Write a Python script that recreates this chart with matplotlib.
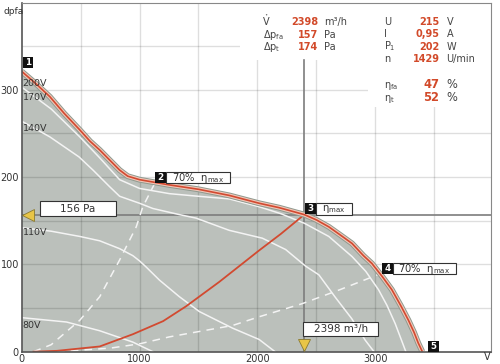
import matplotlib
matplotlib.use("Agg")
import matplotlib.pyplot as plt
from matplotlib.patches import Rectangle, Circle

# ---------------- data ----------------
q_200 = [0, 120, 239, 360, 493, 580, 662, 750, 831, 900, 1000, 1254, 1500, 1761, 2015, 2183, 2398,
         2500, 2606, 2700, 2803, 2900, 2972, 3060, 3141, 3220, 3282, 3330, 3365, 3400]
v_200 = [321, 307, 292, 273, 254, 241, 231, 219, 208, 201, 197, 191, 186, 179, 170, 165, 157,
         151, 143, 134, 124, 110, 101, 86, 71, 52, 36, 22, 10, 0]

q_170 = [0, 250, 493, 662, 831, 1000, 1254, 1500, 1761, 2015, 2200, 2400, 2606, 2803, 2920, 3028, 3100, 3170, 3260]
v_170 = [303, 278, 246, 222, 197, 187, 181, 178, 175, 166, 158, 147, 132, 109, 92, 71, 53, 32, 0]

q_140 = [0, 239, 487, 605, 746, 831, 1000, 1113, 1338, 1479, 1761, 2042, 2240, 2409, 2522, 2663, 2800, 2916, 2990]
v_140 = [264, 246, 223, 208, 189, 178, 170, 164, 157, 153, 139, 130, 117, 98, 88, 62, 38, 13, 0]

q_110 = [0, 250, 493, 662, 831, 943, 1000, 1056, 1169, 1338, 1507, 1789, 2015, 2150]
v_110 = [142, 138, 132, 127, 118, 110, 104, 97, 82, 63, 46, 27, 14, 0]

q_80 = [0, 380, 493, 662, 943, 1113]
v_80 = [39, 34, 30, 24, 11, 0]

# system curve through operating point
q_sys = [100, 300, 662, 943, 1200, 1395, 1677, 2015, 2200, 2398]
v_sys = [0, 1, 6, 20, 35, 52, 80, 116, 135, 157]

# 70 % eta_max lines (dashed)
q_eta1 = [100, 250, 493, 662, 831, 972, 1028, 1130]
v_eta1 = [0, 8, 36, 63, 105, 143, 166, 193]
q_eta2 = [300, 747, 1000, 1254, 1500, 1789, 2015, 2380, 2700, 2944, 3020]
v_eta2 = [0, 4, 9, 17, 23, 30, 40, 55, 71, 84, 88]

volt_labels = ["200V", "170V", "140V", "110V", "80V"]
op_flow = 2398
op_press = 156.6

info_left = [("V", "2398", "m³/h"),
             (r"$\mathregular{\Delta p_{fa}}$", "157", "Pa"),
             (r"$\mathregular{\Delta p_{t}}$", "174", "Pa")]
info_right = [("U", "215", "V"), ("I", "0,95", "A"),
              (r"$\mathregular{P_1}$", "202", "W"), ("n", "1429", "U/min"),
              (r"$\mathregular{\eta_{fa}}$", "47", "%"), (r"$\mathregular{\eta_{t}}$", "52", "%")]

xticks = [0, 1000, 2000, 3000]
yticks = [0, 100, 200, 300]

# ---------------- figure ----------------
W, H = 500, 364
fig = plt.figure(figsize=(W / 100, H / 100), dpi=100)
ax = fig.add_axes([21.7 / W, 1 - 351.7 / H, 469 / W, 348.4 / H])
ax.set_xlim(0, 3980)
ax.set_ylim(0, 399)

def fp(x, y):
    return (x / W, 1 - y / H)

FILL = "#bbc0bb"
RED = "#d24a30"
ax.fill_between(q_200, v_200, 0, color=FILL, lw=0, zorder=1)

# grid
for gx in range(500, 4000, 500):
    ax.axvline(gx, color="black", alpha=0.13, lw=1, zorder=2)
for gy in range(50, 400, 50):
    ax.axhline(gy, color="black", alpha=0.13, lw=1, zorder=2)

# white info panels hiding grid
ax.add_patch(Rectangle((1853, 334), 1090, 70, facecolor="white", edgecolor="none", zorder=3))
ax.add_patch(Rectangle((2940, 280), 1045, 125, facecolor="white", edgecolor="none", zorder=3))

# operating lines
ax.axhline(op_press, color="#7d7d7d", lw=1.2, zorder=4)
ax.plot([op_flow, op_flow], [0, 334], color="#7d7d7d", lw=1.2, zorder=4)

# voltage curves
wc = dict(color="#f4f4f4", lw=1.1, zorder=5)
ax.plot(q_170, v_170, **wc)
ax.plot(q_140, v_140, **wc)
ax.plot(q_110, v_110, **wc)
ax.plot(q_80, v_80, **wc)

ax.plot(q_eta1, v_eta1, color="#f4f4f4", lw=1.1, dashes=(5, 4), zorder=5)
ax.plot(q_eta2, v_eta2, color="#f4f4f4", lw=1.1, dashes=(5, 4), zorder=5)

ax.plot(q_sys, v_sys, color=RED, lw=1.3, zorder=6)

ax.plot(q_200, v_200, color="#8e998e", lw=4.2, zorder=6, solid_capstyle="butt")
ax.plot(q_200, v_200, color="#f2c6b8", lw=2.8, zorder=7, solid_capstyle="butt")
ax.plot(q_200, v_200, color=RED, lw=1.2, zorder=8, solid_capstyle="butt")

# axes styling
ax.set_xticks(xticks)
ax.set_yticks(yticks)
ax.set_xticklabels([str(t) for t in xticks], fontsize=7, color="#333333")
ax.set_yticklabels([str(t) for t in yticks], fontsize=7, color="#333333")
ax.tick_params(length=0, pad=2)
for s in ["top", "right"]:
    ax.spines[s].set_color("#888888")
    ax.spines[s].set_linewidth(0.8)
for s in ["left", "bottom"]:
    ax.spines[s].set_color("#555555")
    ax.spines[s].set_linewidth(1.2)
for s in ax.spines.values():
    s.set_zorder(20)

fig.text(*fp(3, 12), "dpfa", fontsize=6.5, color="#333333", va="center", ha="left")
fig.text(*fp(484, 357), "V", fontsize=7, color="#333333", va="center", ha="left")

# voltage labels
for lab, yy in zip(volt_labels, [83, 97, 128, 233, 325]):
    fig.text(*fp(22.5, yy), lab, fontsize=6.8, color="#333333", va="center", ha="left", zorder=30)

# numbered boxes
def numbox(x0, y0, n):
    fig.patches.append(Rectangle(fp(x0, y0 + 11), 10.5 / W, 11 / H, transform=fig.transFigure,
                                 facecolor="#111111", edgecolor="none", zorder=30))
    fig.text(*fp(x0 + 5.2, y0 + 5.7), str(n), fontsize=6.3, color="white", weight="bold",
             ha="center", va="center", zorder=31)

def labbox(x0, x1, y0, y1, txt, fs=6.8):
    fig.patches.append(Rectangle(fp(x0, y1), (x1 - x0) / W, (y1 - y0) / H, transform=fig.transFigure,
                                 facecolor="white", edgecolor="#333333", lw=0.8, zorder=30))
    fig.text(*fp((x0 + x1) / 2, (y0 + y1) / 2 + 0.5), txt, fontsize=fs, color="#333333",
             ha="center", va="center", zorder=31)

numbox(22.7, 56.5, 1)
numbox(155, 171.5, 2)
labbox(165.5, 230, 171.5, 183, r"70%  $\mathregular{\eta_{max}}$", fs=7.2)
numbox(305, 203, 3)
labbox(315.5, 352, 203, 214.5, r"$\mathregular{\eta_{max}}$", fs=7.2)
numbox(382, 262.5, 4)
labbox(392.5, 456, 262.5, 274, r"70%  $\mathregular{\eta_{max}}$", fs=7.2)
numbox(428, 340.5, 5)

labbox(40, 115.7, 200.7, 215.7, "156 Pa", fs=7.5)
labbox(303.3, 378.3, 321.7, 336, "2398 m³/h", fs=7.5)

# yellow markers
ax.plot([55], [op_press], marker="<", ms=8.5, mfc="#e8c547", mec="#8a7a30", mew=0.6,
        zorder=25, clip_on=False)
ax.plot([op_flow], [7.5], marker="v", ms=8.5, mfc="#e8c547", mec="#8a7a30", mew=0.6,
        zorder=25, clip_on=False)

# info panel
VAL = "#d24a2a"
LAB = "#444444"
FS = 7.0
for i, (lab, val, unit) in enumerate(info_left):
    y = 22.0 + i * 12.5
    fig.text(*fp(263, y + 3), lab, fontsize=FS, color=LAB, ha="left", va="baseline")
    fig.text(*fp(318.5, y), val, fontsize=FS, color=VAL, weight="bold", ha="right", va="center")
    fig.text(*fp(324, y), unit, fontsize=FS, color=LAB, ha="left", va="center")
# dot over V (volume flow symbol)
fig.patches.append(Circle(fp(266.6, 14.8), 0.75 / W, transform=fig.transFigure,
                          facecolor=LAB, edgecolor="none"))

right_y = [21.7, 34, 46.7, 59.3, 85, 97.7]
for (lab, val, unit), y in zip(info_right, right_y):
    big = 1.3 if unit == "%" else 0
    fig.text(*fp(384, y + 3), lab, fontsize=FS, color=LAB, ha="left", va="baseline")
    fig.text(*fp(439.5, y), val, fontsize=FS + big, color=VAL, weight="bold", ha="right", va="center")
    fig.text(*fp(446.5, y), unit, fontsize=FS + big, color=LAB, ha="left", va="center")

fig.savefig("out.png", dpi=100, facecolor="white")
